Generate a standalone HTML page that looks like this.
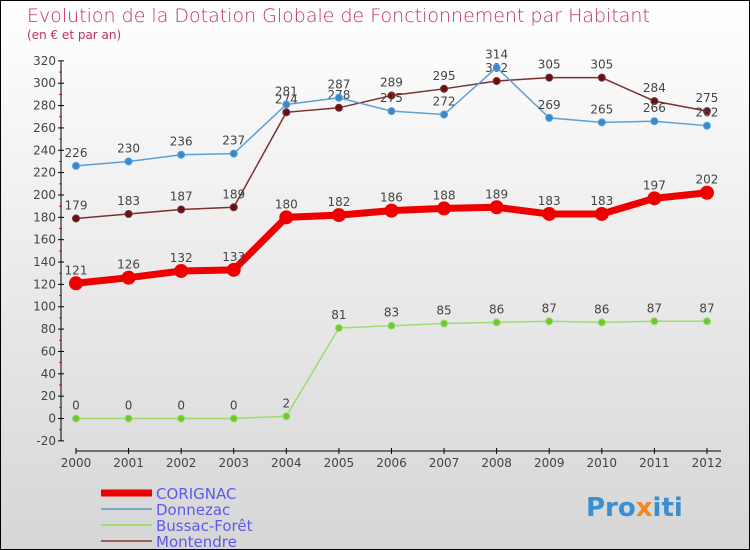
<!DOCTYPE html>
<html><head><meta charset="utf-8"><style>
body{margin:0}
#c{position:relative;width:748px;height:548px;border:1px solid #000;background:linear-gradient(#fff,#d6d6d6);overflow:hidden;font-family:"DejaVu Sans","Liberation Sans",sans-serif}
</style></head><body>
<div id="c">
<svg id="s" width="748" height="548">
<text x="26" y="21" font-size="19" fill="#c0305a" font-family="DejaVu Sans,sans-serif" font-weight="200">Evolution de la Dotation Globale de Fonctionnement par Habitant</text>
<text x="26" y="38" font-size="12" fill="#c0305a">(en € et par an)</text>
<g id="axes"></g><g id="series"></g><g id="legend"></g>
<text x="585" y="515" font-size="26" font-weight="bold" fill="#3a8fd0">Pro<tspan fill="#f08a20">x</tspan>iti</text>
</svg></div>
<script>
const years=[2000,2001,2002,2003,2004,2005,2006,2007,2008,2009,2010,2011,2012];
const corignac=[121,126,132,133,180,182,186,188,189,183,183,197,202];
const donnezac=[226,230,236,237,281,287,275,272,314,269,265,266,262];
const bussac=[0,0,0,0,2,81,83,85,86,87,86,87,87];
const montendre=[179,183,187,189,274,278,289,295,302,305,305,284,275];
const yTicks=[-20,0,20,40,60,80,100,120,140,160,180,200,220,240,260,280,300,320];
const NS="http://www.w3.org/2000/svg";
const X=i=>75+i*52.58, Y=v=>417.5-v*1.1176;
function mk(t,a,p){const e=document.createElementNS(NS,t);for(const k in a)e.setAttribute(k,a[k]);p.appendChild(e);return e;}
const ax=document.getElementById('axes');
let l=mk('line',{x1:60,y1:Y(320),x2:60,y2:Y(-20),stroke:'#000'},ax);


yTicks.forEach(v=>{
 mk('line',{x1:57,x2:63,y1:Y(v),y2:Y(v),stroke:'#000'},ax);
 if(v<320) mk('line',{x1:58,x2:61,y1:Y(v+10),y2:Y(v+10),stroke:'red'},ax);
 const t=mk('text',{x:55,y:Y(v)+4,'font-size':12,'text-anchor':'end',fill:'#444'},ax);
 t.textContent=v;
 
 
});
l=mk('line',{x1:75,y1:450,x2:720,y2:450,stroke:'#000'},ax);


years.forEach((y,i)=>{
 mk('line',{x1:X(i),x2:X(i),y1:447,y2:453,stroke:'#000'},ax);
 const t=mk('text',{x:X(i),y:466,'font-size':12,'text-anchor':'middle',fill:'#444'},ax);
 t.textContent=y;
 
 
});
const sg=document.getElementById('series');
function series(name,data,color,dot,w,r){
 const g=mk('g',{},sg);
 
 
 mk('polyline',{points:data.map((v,i)=>X(i)+','+Y(v)).join(' '),fill:'none',stroke:color,'stroke-width':w},g);
 data.forEach((v,i)=>{
  const c=mk('circle',{cx:X(i),cy:Y(v),r:r,fill:dot,stroke:color,'stroke-width':1},g);
  
  
  const t=mk('text',{x:X(i),y:Y(v)-9,'font-size':12,'text-anchor':'middle',fill:'#444'},g);
  t.textContent=v;
  
  
 });
}
series('montendre',montendre,'#7a3030','#6a1010',1.5,3.5);
series('donnezac',donnezac,'#5aa0d8','#3a88c8',1.5,3.5);
series('bussac-foret',bussac,'#9cdc70','#70c830',1.5,3.5);
series('corignac',corignac,'#ee0000','#ee0000',7,6.5);
const lg=document.getElementById('legend');
[['CORIGNAC','#ee0000',7],['Donnezac','#7aa8c8',2],['Bussac-Forêt','#9cdc70',2],['Montendre','#9a6060',2]].forEach((d,i)=>{
 const y=492+i*16;
 const g=mk('g',{},lg);
 
 
 mk('line',{x1:100,x2:151,y1:y,y2:y,stroke:d[1],'stroke-width':d[2]},g);
 const t=mk('text',{x:155,y:y+6,'font-size':15,fill:'#5a5aee'},g);
 t.textContent=d[0];
});
</script></body></html>
